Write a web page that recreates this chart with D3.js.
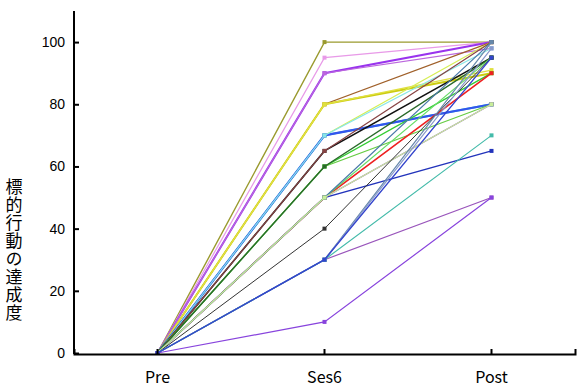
<!DOCTYPE html>
<html><head><meta charset="utf-8">
<script src="https://cdn.jsdelivr.net/npm/d3@7"></script>
<style>body{margin:0;background:#fff}svg{display:block}</style>
</head><body><svg id="c" width="580" height="389"></svg>
<script>
const categories = ["Pre", "Ses6", "Post"];
const yTicks = [0, 20, 40, 60, 80, 100];
const yTitle = "標的行動の達成度";
const seriesNames = ["s1","s2","s3","s4","s5","s6","s7","s8","s9","s10","s11","s12","s13","s14","s15","s16","s17","s18","s19","s20","s21","s22","s23","s24","s25","s26","s27","s28","s29"];
const seriesValues = [
  [0,100,100],[0,95,100],[0,90,100],[0,90,98],[0,80,100],[0,80,90],[0,80,91],
  [0,70,100],[0,70,80],[0,70,80],[0,70,98],[0,65,95],[0,65,100],
  [0,60,90],[0,60,80],[0,60,95],[0,50,65],[0,50,90],[0,50,80],[0,50,95],
  [0,50,100],[0,50,80],[0,40,95],[0,30,50],[0,30,100],[0,30,98],[0,30,70],[0,10,50],[0,30,95]
];
const seriesColors = ["#9a9a2e","#e89ae8","#9933ee","#bb66dd","#a0602a","#cccc10","#e0e040",
  "#d6ee55","#33c6c6","#3355ee","#88e6e6","#111111","#884444",
  "#33cc33","#66cc44","#2a6a2a","#2233bb","#ee2020","#8833cc","#66dd66",
  "#4a7aaa","#c8ee99","#333333","#9955bb","#6688aa","#8899cc","#44bbaa","#8844dd","#3344cc"];
const seriesWidths = [1.4,1.2,2,1.2,1.2,2,1.4,1.2,2,2.2,1.2,1.6,1.2,1.4,1.2,1.4,1.4,1.6,1.2,1.2,1.2,1.2,1,1.2,1.2,1.2,1.2,1.2,1.4];

const svg = d3.select("#c");
const x = d3.scaleBand().domain(categories).range([74, 575]);
const y = d3.scaleLinear().domain([0, 110]).range([353, 11]);
const cx = c => x(c) + x.bandwidth() / 2;

const line = d3.line().x((d,i) => cx(categories[i])).y(d => y(d));
const g = svg.append("g");
seriesValues.forEach((vals, k) => {
  g.append("path").datum(vals).attr("d", line).attr("fill","none")
    .attr("stroke", seriesColors[k]).attr("stroke-width", seriesWidths[k]);
  g.selectAll(null).data(vals).enter().append("rect")
    .attr("x", (d,i) => cx(categories[i]) - 2).attr("y", d => y(d) - 2)
    .attr("width", 4).attr("height", 4).attr("fill", seriesColors[k]);
});

const yAxis = svg.append("g").attr("transform","translate(74,0)")
  .call(d3.axisLeft(y).tickValues(yTicks).tickSizeInner(-5).tickSizeOuter(0).tickPadding(9));
const xAxis = svg.append("g").attr("transform","translate(0,354)")
  .call(d3.axisBottom(x).tickSizeInner(-5).tickSizeOuter(-5).tickPadding(18));
[yAxis, xAxis].forEach(a => {
  a.selectAll("path,line").attr("stroke","#000").attr("stroke-width",2);
});
yAxis.select(".domain").attr("d","M0,11V354");
yAxis.selectAll("text").attr("font-family","Liberation Sans, Arial, sans-serif").attr("font-size",14).attr("fill","#000");
xAxis.selectAll("text").attr("font-family","Noto Sans CJK JP, sans-serif").attr("font-size",16).attr("fill","#000");

svg.append("text").attr("x",14).attr("y",178)
  .style("writing-mode","vertical-rl").style("text-orientation","upright")
  .attr("letter-spacing", 1)
  .attr("font-family","Noto Sans CJK JP, sans-serif").attr("font-size",17).attr("fill","#000")
  .text(yTitle);
</script></body></html>
